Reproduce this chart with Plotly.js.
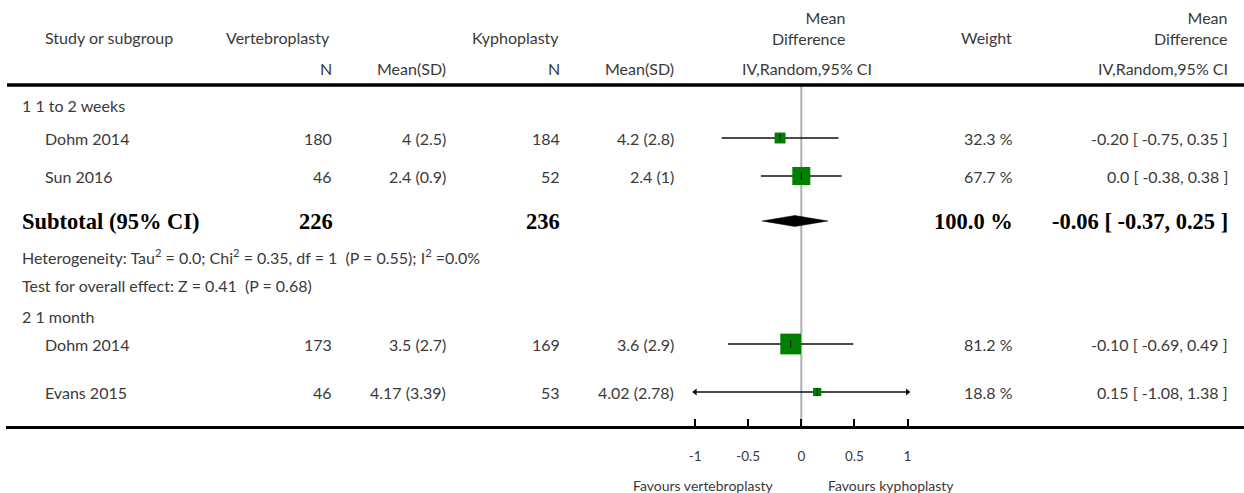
<!DOCTYPE html>
<html><head><meta charset="utf-8">
<script src="https://cdn.plot.ly/plotly-3.0.1.min.js"></script>
<style>html,body{margin:0;padding:0;background:#fff}</style>
</head><body><div id="chart" style="width:1244px;height:493px"></div>
<script>
// ---------------- DATA ----------------
const groupLabels = ["1 1 to 2 weeks", "2 1 month"];
const studyNames = ["Dohm 2014", "Sun 2016", "Dohm 2014", "Evans 2015"];
const vertN = [180, 46, 173, 46];
const vertMean = [4, 2.4, 3.5, 4.17];
const vertSD = [2.5, 0.9, 2.7, 3.39];
const kyphN = [184, 52, 169, 53];
const kyphMean = [4.2, 2.4, 3.6, 4.02];
const kyphSD = [2.8, 1, 2.9, 2.78];
const meanDiff = [-0.20, 0.0, -0.10, 0.15];
const ciLower = [-0.75, -0.38, -0.69, -1.08];
const ciUpper = [0.35, 0.38, 0.49, 1.38];
const weights = [32.3, 67.7, 81.2, 18.8];
const subtotalN = [226, 236];
const subtotalWeight = [100.0];
const subtotalEffect = [-0.06, -0.37, 0.25]; // MD, lower, upper
const heterogeneityText = "Heterogeneity: Tau<sup>2</sup> = 0.0; Chi<sup>2</sup> = 0.35, df = 1  (P = 0.55); I<sup>2</sup> =0.0%";
const overallText = "Test for overall effect: Z = 0.41  (P = 0.68)";
const tickVals = [-1, -0.5, 0, 0.5, 1];
const tickText = ["-1", "-0.5", "0", "0.5", "1"];
const favourLabels = ["Favours vertebroplasty", "Favours kyphoplasty"];
const displayLimits = [-1, 1];

// ---------------- LAYOUT (pixel positions) ----------------
const W = 1244, H = 493;
const zeroPx = 801.3, unitPx = 106.2, axisLeftPx = 6, axisYPx = 426.7;
const studyRowY = [138, 176, 344, 392];
const groupRowY = [105, 316];
const subRowY = 221, hetRowY = 256, testRowY = 285;
const colName = 43, colGroup = 20, colVN = 334, colVM = 448, colKN = 562, colKM = 676, colW = 1015, colCI = 1230;

const SANS = "Lato, 'Open Sans', sans-serif";
const SERIF = "'Liberation Serif', 'DejaVu Serif', serif";
const TXT = "#3a3a3a";
const FS = 16;

const ann = [];
function T(text, xpx, ypx, anchor, opts) {
  opts = opts || {};
  ann.push({
    text: text, x: xpx / W, xref: 'paper', y: ypx, yref: 'y',
    xanchor: anchor, yanchor: 'middle', showarrow: false, align: anchor === 'center' ? 'center' : anchor,
    font: { family: opts.family || SANS, size: opts.size || FS, color: opts.color || TXT }
  });
}
function fmtMS(m, s) { return m + " (" + s + ")"; }
function fmtMD(v) { return v === 0 ? "0.0" : v.toFixed(2); }
function fmtCI(m, lo, hi) { return fmtMD(m) + " [ " + lo.toFixed(2) + ", " + hi.toFixed(2) + " ]"; }

// headers
T("Study or subgroup", colName, 37, 'left');
T("Vertebroplasty", 224, 37, 'left');
T("Kyphoplasty", 470, 37, 'left');
T("Mean<br>Difference", 848, 28, 'right');
T("Weight", 1014, 37, 'right');
T("Mean<br>Difference", colCI, 28, 'right');
T("N", colVN, 68, 'right');
T("Mean(SD)", colVM, 68, 'right');
T("N", colKN, 68, 'right');
T("Mean(SD)", colKM, 68, 'right');
T("IV,Random,95% CI", 807, 68, 'center');
T("IV,Random,95% CI", colCI, 68, 'right');

// groups
groupLabels.forEach((g, i) => T(g, colGroup, groupRowY[i], 'left'));

// studies
studyNames.forEach((s, i) => {
  const y = studyRowY[i];
  T(s, colName, y, 'left');
  T(String(vertN[i]), colVN, y, 'right');
  T(fmtMS(vertMean[i], vertSD[i]), colVM, y, 'right');
  T(String(kyphN[i]), colKN, y, 'right');
  T(fmtMS(kyphMean[i], kyphSD[i]), colKM, y, 'right');
  T(weights[i].toFixed(1) + " %", colW, y, 'right');
  T(fmtCI(meanDiff[i], ciLower[i], ciUpper[i]), colCI, y, 'right');
});

// subtotal
const bold = { family: SERIF, size: 22.5, color: '#000' };
T("<b>Subtotal (95% CI)</b>", colGroup, subRowY, 'left', bold);
T("<b>" + subtotalN[0] + "</b>", colVN + 1, subRowY, 'right', bold);
T("<b>" + subtotalN[1] + "</b>", colKN, subRowY, 'right', bold);
T("<b>" + subtotalWeight[0].toFixed(1) + " %</b>", colW, subRowY, 'right', bold);
T("<b>" + fmtCI(subtotalEffect[0], subtotalEffect[1], subtotalEffect[2]) + "</b>", colCI, subRowY, 'right', bold);
T(heterogeneityText, colGroup, hetRowY, 'left');
T(overallText, colGroup, testRowY, 'left');

// favours
T(favourLabels[0], 703, 485, 'center', { size: 14 });
T(favourLabels[1], 891, 485, 'center', { size: 14 });

// ---------------- TRACES ----------------
const clip = v => Math.max(displayLimits[0], Math.min(displayLimits[1], v));
const ciX = [], ciY = [];
studyNames.forEach((s, i) => { ciX.push(clip(ciLower[i]), clip(ciUpper[i]), null); ciY.push(studyRowY[i], studyRowY[i], null); });
const ciTrace = { type: 'scatter', mode: 'lines', x: ciX, y: ciY, line: { color: '#111', width: 1.4 }, hoverinfo: 'skip', showlegend: false };

const arrL = { x: [], y: [] }, arrR = { x: [], y: [] };
studyNames.forEach((s, i) => {
  if (ciLower[i] < displayLimits[0]) { arrL.x.push(displayLimits[0]); arrL.y.push(studyRowY[i]); }
  if (ciUpper[i] > displayLimits[1]) { arrR.x.push(displayLimits[1]); arrR.y.push(studyRowY[i]); }
});
const arrowL = { type: 'scatter', mode: 'markers', x: arrL.x, y: arrL.y, marker: { symbol: 'triangle-left', size: 6, color: '#111' }, hoverinfo: 'skip', showlegend: false };
const arrowR = { type: 'scatter', mode: 'markers', x: arrR.x, y: arrR.y, marker: { symbol: 'triangle-right', size: 6, color: '#111' }, hoverinfo: 'skip', showlegend: false };

const sq = { type: 'scatter', mode: 'markers', x: meanDiff, y: studyRowY,
  marker: { symbol: 'square', color: '#008000', opacity: 1, size: weights.map(w => 4.5 + 0.2 * w), line: { width: 0 } },
  hoverinfo: 'skip', showlegend: false };
const ctr = { type: 'scatter', mode: 'markers', x: meanDiff, y: studyRowY,
  marker: { symbol: 'line-ns', size: 5, opacity: 1, line: { color: '#000', width: 1 } }, hoverinfo: 'skip', showlegend: false };

const dh = 5.5;
const diamond = { type: 'scatter', mode: 'lines', fill: 'toself', fillcolor: '#000',
  x: [subtotalEffect[1], subtotalEffect[0], subtotalEffect[2], subtotalEffect[0], subtotalEffect[1]],
  y: [subRowY, subRowY - dh, subRowY, subRowY + dh, subRowY],
  line: { color: '#000', width: 0.5 }, hoverinfo: 'skip', showlegend: false };

const layout = {
  width: W, height: H, margin: { l: 0, r: 0, t: 0, b: 0 },
  paper_bgcolor: '#fff', plot_bgcolor: '#fff', showlegend: false,
  xaxis: {
    domain: [axisLeftPx / W, 1], range: [(axisLeftPx - zeroPx) / unitPx, (W - zeroPx) / unitPx],
    anchor: 'free', position: (H - axisYPx) / H,
    showline: true, linecolor: '#000', linewidth: 3.5,
    ticks: 'inside', ticklen: 7, tickwidth: 2, tickcolor: '#000',
    tickvals: tickVals, ticktext: tickText, ticklabelstandoff: 16,
    tickfont: { family: SANS, size: 13.5, color: TXT },
    showgrid: false, zeroline: false, fixedrange: true, automargin: false
  },
  yaxis: { domain: [0, 1], range: [H, 0], visible: false, fixedrange: true, showgrid: false, zeroline: false },
  shapes: [
    { type: 'line', xref: 'paper', yref: 'y', x0: 7 / W, x1: 1, y0: 85, y1: 85, line: { color: '#000', width: 3.5 } },
    { type: 'line', xref: 'x', yref: 'y', x0: 0, x1: 0, y0: 86, y1: axisYPx, line: { color: '#b0b0b0', width: 2 }, layer: 'below' }
  ],
  annotations: ann
};
Plotly.newPlot('chart', [ciTrace, arrowL, arrowR, sq, ctr, diamond], layout, { staticPlot: true, displayModeBar: false });
</script></body></html>
